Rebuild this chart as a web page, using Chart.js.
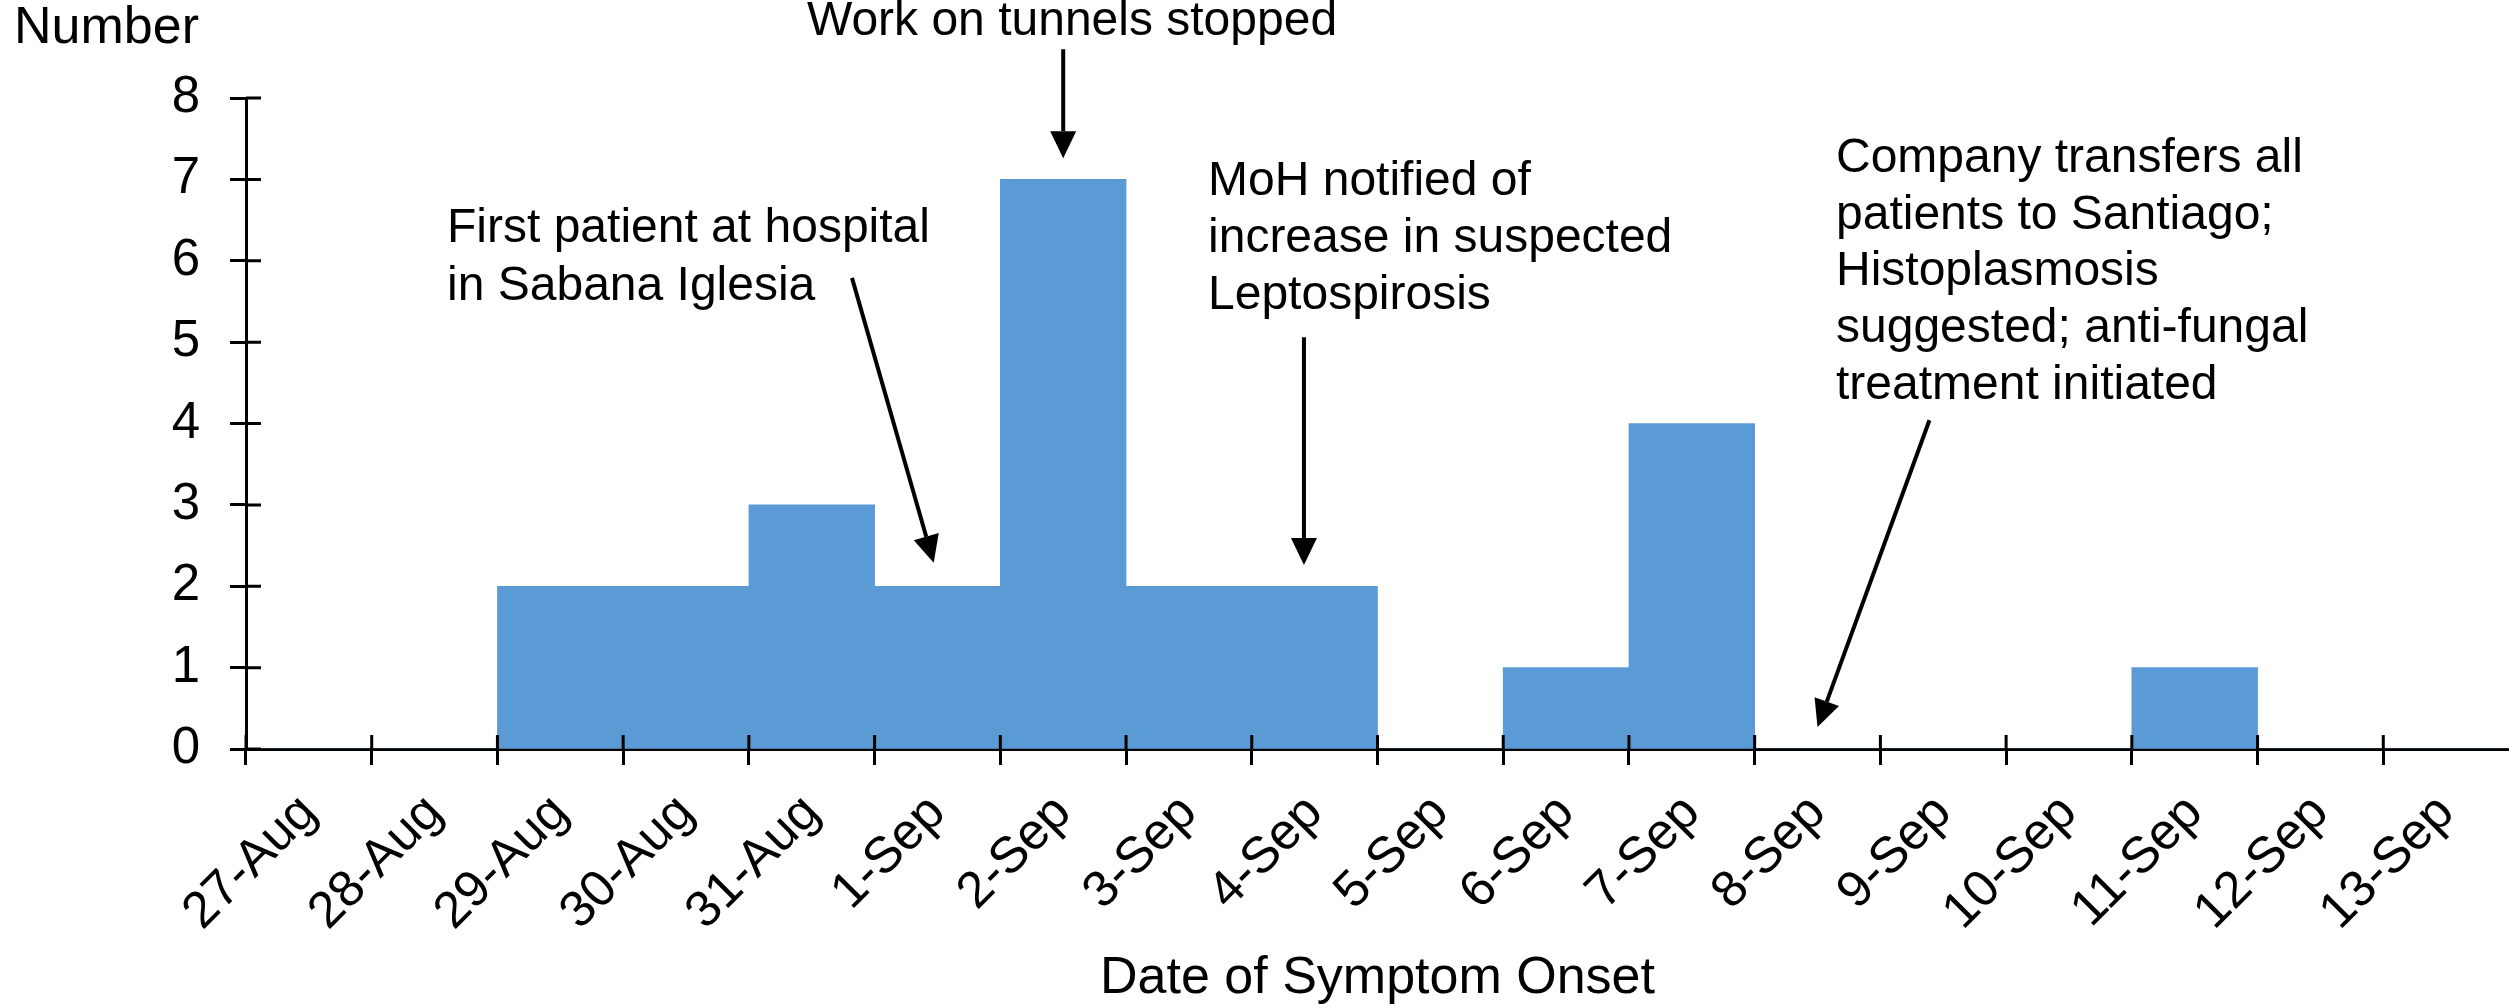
<!DOCTYPE html>
<html>
<head>
<meta charset="utf-8">
<script src="https://cdn.jsdelivr.net/npm/chart.js@4.4.1/dist/chart.umd.min.js"></script>
<style>
  html, body { margin: 0; padding: 0; background: #fff; }
  #wrap { width: 2509px; height: 1008px; position: relative; }
</style>
</head>
<body>
<div id="wrap"><canvas id="myChart"></canvas></div>
<script>
// date of onset (left edge of each one-day bin) and number of cases
const labels = ['27-Aug', '28-Aug', '29-Aug', '30-Aug', '31-Aug', '1-Sep', '2-Sep', '3-Sep', '4-Sep',
  '5-Sep', '6-Sep', '7-Sep', '8-Sep', '9-Sep', '10-Sep', '11-Sep', '12-Sep', '13-Sep'];
const cases = [0, 0, 2, 2, 3, 2, 7, 2, 2, 0, 1, 4, 0, 0, 0, 1, 0, 0];
const yMin = 0;
const yMax = 8;

// events: text anchor and arrow ends in (bin edge index, number) units
const events = [
  { text: ['Work on tunnels stopped'], at: [4.462, 8.774], lh: 57, from: [6.5, 8.6], to: [6.5, 7.26] },
  { text: ['First patient at hospital', 'in Sabana Iglesia'], at: [1.599, 6.23], lh: 58, from: [4.82, 5.79], to: [5.47, 2.29] },
  { text: ['MoH notified of', 'increase in suspected', 'Leptospirosis'], at: [7.652, 6.808], lh: 57, from: [8.415, 5.06], to: [8.415, 2.26] },
  { text: ['Company transfers all', 'patients to Santiago;', 'Histoplasmosis', 'suggested; anti-fungal', 'treatment initiated'],
    at: [12.647, 7.091], lh: 56.7, from: [13.39, 4.04], to: [12.5, 0.27] }
];

Chart.defaults.font.family = "'Liberation Sans', Arial, sans-serif";
Chart.defaults.color = '#000';

function arrow(ctx, x1, y1, x2, y2) {
  const a = Math.atan2(y2 - y1, x2 - x1);
  const L = 27, H = 13;
  const bx = x2 - L * Math.cos(a), by = y2 - L * Math.sin(a);
  ctx.beginPath();
  ctx.moveTo(x1, y1);
  ctx.lineTo(bx, by);
  ctx.stroke();
  ctx.beginPath();
  ctx.moveTo(x2, y2);
  ctx.lineTo(bx + H * Math.sin(a), by - H * Math.cos(a));
  ctx.lineTo(bx - H * Math.sin(a), by + H * Math.cos(a));
  ctx.closePath();
  ctx.fill();
}

const notes = {
  id: 'notes',
  afterDraw(chart) {
    const ctx = chart.ctx;
    const xs = chart.scales.x, ys = chart.scales.y;
    const bw = xs.width / labels.length;
    const px = u => xs.left + u * bw;
    const py = v => ys.getPixelForValue(v);
    ctx.save();
    ctx.strokeStyle = '#000';
    ctx.fillStyle = '#000';
    // tick marks cross the axes: inner halves
    ctx.lineWidth = 3;
    ctx.beginPath();
    for (let k = 0; k < labels.length; k++) {
      ctx.moveTo(px(k), ys.bottom);
      ctx.lineTo(px(k), ys.bottom - 14);
    }
    for (let v = yMin; v <= yMax; v++) {
      ctx.moveTo(xs.left, py(v));
      ctx.lineTo(xs.left + 15, py(v));
    }
    ctx.stroke();

    ctx.font = "48px 'Liberation Sans', Arial, sans-serif";
    ctx.textBaseline = 'alphabetic';
    ctx.textAlign = 'left';
    ctx.lineWidth = 4;
    events.forEach(e => {
      e.text.forEach((t, i) => ctx.fillText(t, px(e.at[0]), py(e.at[1]) + i * e.lh));
      arrow(ctx, px(e.from[0]), py(e.from[1]), px(e.to[0]), py(e.to[1]));
    });
    ctx.restore();
  }
};

const config = {
  type: 'bar',
  data: {
    labels: labels,
    datasets: [{
      data: cases,
      backgroundColor: '#5B9BD5',
      borderWidth: 0,
      barPercentage: 1,
      categoryPercentage: 1
    }]
  },
  options: {
    responsive: true,
    maintainAspectRatio: false,
    animation: false,
    layout: { padding: { left: 14, right: 0, top: 0, bottom: 0 } },
    plugins: {
      legend: { display: false },
      tooltip: { enabled: false },
      title: {
        display: true,
        text: 'Number',
        align: 'start',
        color: '#000',
        font: { size: 52, weight: 'normal', lineHeight: 1 },
        padding: { top: 3, bottom: 43 }
      }
    },
    scales: {
      x: {
        z: 1,
        offset: true,
        grid: {
          offset: true,
          drawOnChartArea: false,
          tickLength: 16,
          tickWidth: 3,
          tickColor: c => c.type === 'tick' ? '#000' : 'rgba(0,0,0,0)'
        },
        border: { color: '#000', width: 3 },
        ticks: {
          autoSkip: false,
          minRotation: 45,
          maxRotation: 45,
          labelOffset: 0,
          padding: 18,
          color: '#000',
          font: { size: 51 }
        },
        title: {
          display: true,
          text: 'Date of Symptom Onset',
          color: '#000',
          font: { size: 52, lineHeight: 1 },
          padding: { top: 0, bottom: 3 }
        },
        afterFit: s => { s.height = 259; }
      },
      y: {
        z: 1,
        min: yMin,
        max: yMax,
        grid: { drawOnChartArea: false, tickLength: 16, tickWidth: 3, tickColor: '#000' },
        border: { color: '#000', width: 3 },
        ticks: { stepSize: 1, padding: 30, color: '#000', font: { size: 51 } },
        afterFit: s => { s.width = 232; }
      }
    }
  },
  plugins: [notes]
};

const myChart = new Chart(document.getElementById('myChart'), config);
</script>
</body>
</html>
